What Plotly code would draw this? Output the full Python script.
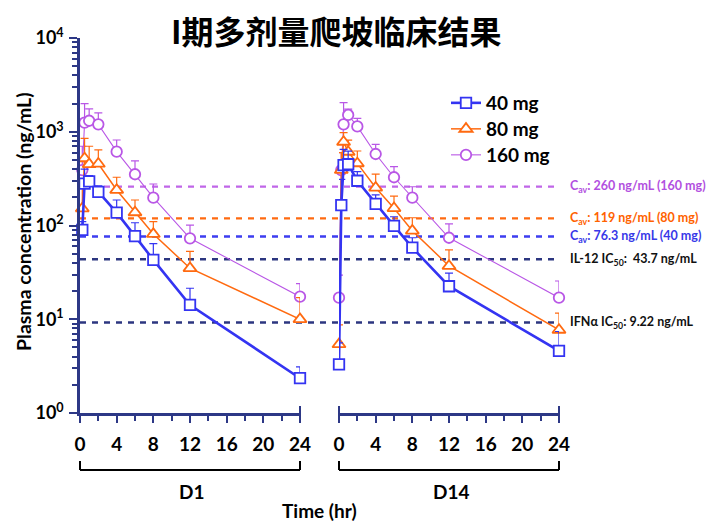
import math
import plotly.graph_objects as go

# ---------------- data ----------------
doses = ["40 mg", "80 mg", "160 mg"]
times_d1 = [0.25, 0.5, 1, 2, 4, 6, 8, 12, 24]
times_d14 = [0, 0.25, 0.5, 1, 2, 4, 6, 8, 12, 24]

conc_d1_40 = [90, 280, 295, 228, 137, 77, 43, 14.2, 2.35]
top_d1_40 = [110, 400, 340, 265, 187, 107, 64, 21.4, 3.1]
conc_d1_80 = [152, 520, 450, 455, 239, 138, 81, 35, 10]
top_d1_80 = [300, 850, 700, 640, 327, 187, 110, 53, 17]
conc_d1_160 = [390, 1250, 1310, 1200, 613, 352, 198, 73, 17.4]
top_d1_160 = [700, 2000, 1750, 1590, 817, 488, 277, 101, 24]

conc_d14_40 = [3.3, 165, 440, 450, 300, 170, 99, 58, 22.5, 4.6]
top_d14_40 = [5.6, 310, 650, 620, 375, 212, 124, 74, 31, 7.4]
conc_d14_80 = [5.4, 390, 780, 610, 460, 253, 153, 88, 37, 7.7]
top_d14_80 = [8.7, 600, 977, 816, 623, 354, 206, 121, 55, 11.6]
conc_d14_160 = [17, 390, 1200, 1510, 1140, 579, 327, 198, 74, 17]
top_d14_160 = [29.6, 600, 2040, 1740, 1390, 735, 424, 259, 104, 25.6]

ref_values = [260, 119, 76.3, 43.7, 9.22]
ref_labels = ["C<sub>av</sub>: 260 ng/mL (160 mg)",
              "C<sub>av</sub>: 119 ng/mL (80 mg)",
              "C<sub>av</sub>: 76.3 ng/mL (40 mg)",
              "IL-12 IC<sub>50</sub>:  43.7 ng/mL",
              "IFNα IC<sub>50</sub>: 9.22 ng/mL"]

y_tickvals = [1, 10, 100, 1000, 10000]
y_ticktext = ["10<sup>0</sup>", "10<sup>1</sup>", "10<sup>2</sup>", "10<sup>3</sup>", "10<sup>4</sup>"]
x_tickvals = [0, 4, 8, 12, 16, 20, 24]

# ---------------- styles ----------------
colors = ["#3434f2", "#ff6a10", "#b957e6"]
symbols = ["square", "triangle-up", "circle"]
msizes = [10.5, 11.5, 10.5]
lwidths = [2.6, 1.5, 1.1]
ref_colors = ["#c066e8", "#ff6a10", "#3d3df0", "#2c3680", "#2c3680"]
text_colors = ["#b24fe0", "#ff6200", "#3838e8", "#111111", "#111111"]
navy = "#2d3886"
FONT = "Lato"
legend_ids = ["legend", "legend2", "legend3"]
legend_rows = [103, 129, 155]

series_d1 = [(conc_d1_40, top_d1_40), (conc_d1_80, top_d1_80), (conc_d1_160, top_d1_160)]
series_d14 = [(conc_d14_40, top_d14_40), (conc_d14_80, top_d14_80), (conc_d14_160, top_d14_160)]

fig = go.Figure()
order = [2, 1, 0]  # draw 160 first so 40 mg on top
for i in order:
    for (times, (vals, tops), xa, show) in [(times_d1, series_d1[i], "x", True),
                                             (times_d14, series_d14[i], "x2", False)]:
        fig.add_trace(go.Scatter(
            x=times, y=vals, xaxis=xa, yaxis="y",
            mode="lines+markers", name=doses[i], legendgroup=doses[i],
            showlegend=show, legend=legend_ids[i],
            line=dict(color=colors[i], width=lwidths[i]),
            marker=dict(symbol=symbols[i], size=msizes[i], color="white",
                        line=dict(color=colors[i], width=1.8)),
            error_y=dict(type="data", symmetric=False,
                         array=[t - v for t, v in zip(tops, vals)],
                         arrayminus=[0] * len(vals),
                         color=colors[i], thickness=1.2, width=4),
            cliponaxis=False,
        ))

# plot geometry in pixels (page body adds an 8px offset)
OFF = 8
W, H = 718 - OFF, 523 - OFF
L, R, T, B = 80 - OFF, 159, 38 - OFF, 110
pw = W - L - R
ph = H - T - B


def px2x(px):
    return (px - OFF - L) / pw


def py2y(py):
    return (H - B - (py - OFF)) / ph


d1_end = px2x(300)
d14_start = px2x(339)

shapes = []
for v, c in zip(ref_values, ref_colors):
    shapes.append(dict(type="line", xref="paper", yref="y", x0=0, x1=px2x(556),
                       y0=v, y1=v, layer="below",
                       line=dict(color=c, width=2.4, dash="6px,6px")))
# brackets under the axes
for x0, x1 in [(0, d1_end), (d14_start, 1)]:
    shapes.append(dict(type="line", xref="paper", yref="paper", x0=x0, x1=x1,
                       y0=py2y(470), y1=py2y(470), line=dict(color="black", width=2)))
    for xx in (x0, x1):
        shapes.append(dict(type="line", xref="paper", yref="paper", x0=xx, x1=xx,
                           y0=py2y(470), y1=py2y(461), line=dict(color="black", width=2)))
# axis end ticks crossing the axis line
for xx in (d1_end, d14_start, 1):
    shapes.append(dict(type="line", xref="paper", yref="paper", x0=xx, x1=xx,
                       y0=py2y(420), y1=py2y(406), line=dict(color=navy, width=2)))

annotations = []
for v, t, c in zip(ref_values, ref_labels, text_colors):
    annotations.append(dict(xref="paper", yref="y", x=px2x(568), y=math.log10(v),
                            text=t, showarrow=False, xanchor="left", yanchor="middle",
                            font=dict(family=FONT, size=12.5, color=c, weight="bold")))
annotations += [
    dict(xref="paper", yref="paper", x=px2x(336), y=py2y(30),
         text="I期多剂量爬坡临床结果", showarrow=False, xanchor="center", yanchor="middle",
         font=dict(family="Noto Sans CJK SC", size=32, color="black", weight="bold")),
    dict(xref="paper", yref="paper", x=px2x(23), y=py2y(222),
         text="Plasma concentration (ng/mL)", showarrow=False, textangle=-90,
         xanchor="center", yanchor="middle",
         font=dict(family=FONT, size=19.5, color="black", weight="bold")),
    dict(xref="paper", yref="paper", x=px2x(191), y=py2y(492), text="D1", showarrow=False,
         xanchor="center", yanchor="middle",
         font=dict(family=FONT, size=19, color="black", weight="bold")),
    dict(xref="paper", yref="paper", x=px2x(451), y=py2y(492), text="D14", showarrow=False,
         xanchor="center", yanchor="middle",
         font=dict(family=FONT, size=19, color="black", weight="bold")),
    dict(xref="paper", yref="paper", x=px2x(319), y=py2y(510), text="Time (hr)", showarrow=False,
         xanchor="center", yanchor="middle",
         font=dict(family=FONT, size=19, color="black", weight="bold")),
]

minor_y = [m * 10 ** k for k in range(4) for m in range(2, 10)]

xaxis_common = dict(range=[0, 24], tickvals=x_tickvals, showgrid=False, zeroline=False,
                    showline=True, linecolor=navy, linewidth=2.5, ticks="outside",
                    ticklen=7, tickwidth=2, tickcolor=navy, anchor="y",
                    tickfont=dict(family=FONT, size=19, color="black", weight="bold"),
                    minor=dict(dtick=2, ticks="outside", ticklen=5, tickwidth=2, tickcolor=navy,
                               showgrid=False),
                    ticklabelstandoff=5)

legend_layout = {}
for lid, row in zip(legend_ids, legend_rows):
    legend_layout[lid] = dict(x=px2x(446), y=py2y(row), xanchor="left", yanchor="middle",
                              font=dict(family=FONT, size=19, color="black", weight="bold"),
                              bgcolor="rgba(0,0,0,0)", itemwidth=30)

fig.update_layout(
    width=W, height=H, margin=dict(l=L, r=R, t=T, b=B),
    paper_bgcolor="white", plot_bgcolor="white",
    showlegend=True,
    xaxis=dict(domain=[0, d1_end], **xaxis_common),
    xaxis2=dict(domain=[d14_start, 1], **xaxis_common),
    yaxis=dict(type="log", range=[0, 4], tickvals=y_tickvals, ticktext=y_ticktext,
               showgrid=False, zeroline=False, showline=True, linecolor=navy, linewidth=2.5,
               ticks="outside", ticklen=8, tickwidth=2, tickcolor=navy,
               tickfont=dict(family=FONT, size=18, color="black", weight="bold"),
               minor=dict(tickvals=minor_y, ticks="outside", ticklen=5, tickwidth=2,
                          tickcolor=navy, showgrid=False),
               ticklabelstandoff=2),
    shapes=shapes, annotations=annotations,
    **legend_layout,
)

fig.write_html("out.html")
